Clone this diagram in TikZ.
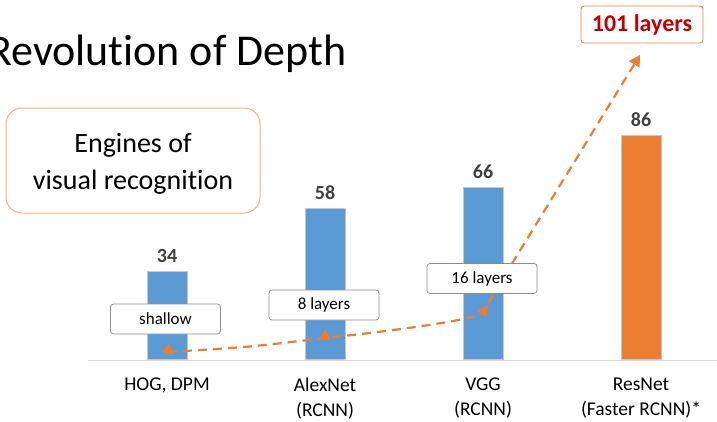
\documentclass[tikz,border=0pt]{standalone}
\usepackage{fontspec}
\setmainfont{Carlito}[Ligatures={NoCommon}]
\usetikzlibrary{arrows.meta,shapes.geometric}
\definecolor{barblue}{HTML}{5B9BD5}
\definecolor{barorange}{HTML}{ED7D31}
\definecolor{numgray}{HTML}{404040}
\definecolor{darkred}{HTML}{C00000}
\definecolor{axisgray}{HTML}{D9D9D9}
\definecolor{lightorange}{HTML}{F4B183}
\begin{document}
\begin{tikzpicture}[x=1pt,y=-1pt,
  bar/.style={draw=black!22, line width=0.6pt, inner sep=0, minimum width=40pt, anchor=south},
  val/.style={font=\fontsize{20}{24}\selectfont\bfseries, text=numgray, anchor=base, inner sep=0},
  cat/.style={font=\fontsize{19.5}{25}\selectfont, align=center, anchor=north, inner sep=0},
  tagbox/.style={draw=black!45, fill=white, rounded corners=3pt, line width=0.7pt, minimum width=110pt, minimum height=30pt, font=\fontsize{17}{20}\selectfont, inner sep=0},
  trend/.style={draw=barorange, line width=2.2pt, dash pattern=on 9pt off 6pt},
  marker/.style={regular polygon, regular polygon sides=3, fill=barorange, minimum size=14pt, inner sep=0}
]
\useasboundingbox (0,0) rectangle (717,421);
\fill[white] (0,0) rectangle (717,421);

% title
\node[anchor=base west, inner sep=0, font=\fontsize{44}{50}\selectfont] (title) at (-12,65) {Revolution of Depth};

% engines box
\node[draw=lightorange, line width=1pt, rounded corners=16pt, minimum width=254pt, minimum height=105pt] (engines) at (133,160.5) {};
\node[align=center, inner sep=0, font=\fontsize{28}{37}\selectfont] (enginestext) at (133,164) {Engines of\\visual recognition};

% axis
\coordinate (ax0) at (88,360);
\coordinate (ax1) at (717,360);
\draw[axisgray, line width=1pt] (ax0) -- (ax1);

% bars
\node[bar, fill=barblue, minimum height=88pt] (b1) at (167,360) {};
\node[bar, fill=barblue, minimum height=151pt] (b2) at (325,360) {};
\node[bar, fill=barblue, minimum height=172pt] (b3) at (483,360) {};
\node[bar, fill=barorange, minimum height=224pt] (b4) at (641,360) {};

% values
\node[val] (v1) at (167,262) {34};
\node[val] (v2) at (325,199) {58};
\node[val] (v3) at (483,178) {66};
\node[val] (v4) at (641,126) {86};

% categories
\node[cat] (c1) at (167,378) {HOG, DPM};
\node[cat] (c2) at (325,378) {AlexNet\\(RCNN)};
\node[cat] (c3) at (483,378) {VGG\\(RCNN)};
\node[cat] (c4) at (641,378) {ResNet\\(Faster RCNN)*};

% trend curve
\coordinate (h) at (168,352);
\coordinate (a) at (325,338);
\coordinate (v) at (483,313);
\coordinate (t) at (640,55);
\draw[trend, -{Triangle[length=11pt,width=12pt]}] (h) .. controls (250,347) .. (a) .. controls (420,328) and (478,318) .. (v) .. controls (492,296) .. (t);
\node[marker, rotate=-10] (m1) at (168,350) {};
\node[marker] (m2) at (325,336) {};
\node[marker, rotate=-35] (m3) at (484,311) {};

% tags
\node[tagbox] (s1) at (165.5,319) {shallow};
\node[tagbox] (s2) at (324,305) {8 layers};
\node[tagbox] (s3) at (482,278.5) {16 layers};
\node[draw=barorange, fill=white, rounded corners=3pt, line width=0.8pt, minimum width=122pt, minimum height=37pt, inner sep=0, font=\fontsize{24}{28}\selectfont\bfseries, text=darkred] (s4) at (642,24.5) {101 layers};
\end{tikzpicture}
\end{document}
